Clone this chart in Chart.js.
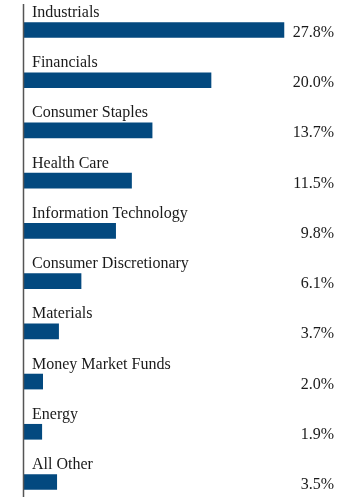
<!DOCTYPE html>
<html>
<head>
<meta charset="utf-8">
<script src="https://cdn.jsdelivr.net/npm/chart.js@4"></script>
<style>
  body { margin: 0; background: #fff; }
  #wrap { width: 360px; height: 497px; position: relative; }
</style>
</head>
<body>
<div id="wrap"><canvas id="sectorChart"></canvas></div>
<script>
const sectors = ['Industrials', 'Financials', 'Consumer Staples', 'Health Care', 'Information Technology',
    'Consumer Discretionary', 'Materials', 'Money Market Funds', 'Energy', 'All Other'];
const weights = [27.8, 20.0, 13.7, 11.5, 9.8, 6.1, 3.7, 2.0, 1.9, 3.5];
const weightLabels = ['27.8%', '20.0%', '13.7%', '11.5%', '9.8%', '6.1%', '3.7%', '2.0%', '1.9%', '3.5%'];

const textFont = '16px "Liberation Serif", "Times New Roman", serif';

// labels above each bar, values on the right, plus the left axis rule
const labelPlugin = {
    id: 'labelPlugin',
    afterDatasetsDraw(chart) {
        const ctx = chart.ctx;
        const y = chart.scales.y;
        const area = chart.chartArea;
        ctx.save();
        ctx.strokeStyle = '#555';
        ctx.lineWidth = 1.5;
        ctx.beginPath();
        ctx.moveTo(area.left - 0.5, 4);
        ctx.lineTo(area.left - 0.5, chart.height);
        ctx.stroke();

        ctx.font = textFont;
        ctx.fillStyle = '#1a1a1a';
        ctx.textBaseline = 'alphabetic';
        sectors.forEach((name, i) => {
            const cy = y.getPixelForValue(i);
            ctx.textAlign = 'left';
            ctx.fillText(name, area.left + 8, cy - 13);
            ctx.textAlign = 'right';
            ctx.fillText(weightLabels[i], 334, cy + 7);
        });
        ctx.restore();
    }
};

new Chart(document.getElementById('sectorChart').getContext('2d'), {
    type: 'bar',
    data: {
        labels: sectors,
        datasets: [{
            data: weights,
            backgroundColor: '#03497f',
            barThickness: 15,
            clip: false
        }]
    },
    options: {
        indexAxis: 'y',
        responsive: true,
        maintainAspectRatio: false,
        animation: false,
        layout: { padding: { left: 24, right: 55.5, top: 30, bottom: 15 } },
        scales: {
            x: { display: false, min: 0, max: 30 },
            y: { display: false, offset: false }
        },
        plugins: {
            legend: { display: false },
            tooltip: { enabled: false }
        }
    },
    plugins: [labelPlugin]
});
</script>
</body>
</html>
